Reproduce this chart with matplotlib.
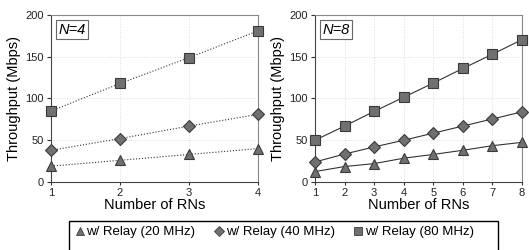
import matplotlib
matplotlib.use("Agg")
import matplotlib.pyplot as plt
from matplotlib.patches import Rectangle
from matplotlib.lines import Line2D

plt.rcParams['font.family'] = ['Liberation Sans', 'DejaVu Sans']

# Data
rns4 = [1, 2, 3, 4]
n4_20 = [19, 26, 33, 40]
n4_40 = [38, 52, 67, 81]
n4_80 = [85, 118, 149, 181]

rns8 = [1, 2, 3, 4, 5, 6, 7, 8]
n8_20 = [12.5, 18.5, 22, 28.5, 33, 38, 43.5, 47.5]
n8_40 = [24, 33.5, 42, 50, 58.5, 67, 75.5, 84]
n8_80 = [50, 67, 84.5, 101.5, 118.5, 136, 153, 170.5]

labels = ["w/ Relay (20 MHz)", "w/ Relay (40 MHz)", "w/ Relay (80 MHz)"]
markers = ['^', 'D', 's']
msizes = [7.5, 6.5, 7]
yticks = [0, 50, 100, 150, 200]

fill = '#707070'
edge = '#3a3a3a'

fig = plt.figure(figsize=(5.29, 2.5), dpi=100)
W, H = 529, 250

def px(l, t, r, b):
    return [l / W, 1 - b / H, (r - l) / W, (b - t) / H]

ax1 = fig.add_axes(px(51, 15, 258, 182))
ax2 = fig.add_axes(px(315, 15, 522, 182))

def draw(ax, x, series, ls, title, xticks):
    for y, m, ms in zip(series, markers, msizes):
        ax.plot(x, y, linestyle=ls, color='#333333', linewidth=0.8,
                marker=m, markersize=ms, markerfacecolor=fill,
                markeredgecolor=edge, markeredgewidth=0.8, clip_on=False, zorder=3)
    ax.set_xlim(x[0], x[-1])
    ax.set_ylim(0, 200)
    ax.set_yticks(yticks)
    ax.set_xticks(xticks)
    ax.grid(True, linestyle=':', color='#dddddd', linewidth=0.7)
    ax.tick_params(axis='both', labelsize=8, length=3, width=0.8, colors='#333333',
                   pad=2, labelcolor='#222222')
    ax.tick_params(axis='x', length=2)
    for s in ['top', 'right']:
        ax.spines[s].set_color('#888888')
    for s in ['left', 'bottom']:
        ax.spines[s].set_color('#444444')
    for s in ax.spines.values():
        s.set_linewidth(0.8)
    ax.set_ylabel("Throughput (Mbps)", fontsize=10.5, labelpad=3)
    ax.set_xlabel("Number of RNs", fontsize=10.5, labelpad=0)
    ax.text(0.035, 0.955, title, transform=ax.transAxes, fontsize=10.5,
            style='italic', va='top', ha='left',
            bbox=dict(boxstyle='square,pad=0.15', facecolor='white',
                      edgecolor='#666666', linewidth=0.8), zorder=5)

draw(ax1, rns4, [n4_20, n4_40, n4_80], ':', 'N=4', rns4)
draw(ax2, rns8, [n8_20, n8_40, n8_80], '-', 'N=8', rns8)

# Legend frame (extends beyond bottom of figure)
rect = Rectangle((69 / W, -0.1), (498 - 69) / W, 1 - 221 / H + 0.1,
                 transform=fig.transFigure, facecolor='white',
                 edgecolor='black', linewidth=1.0, clip_on=False)
fig.patches.append(rect)

handles = [Line2D([], [], linestyle='none', marker=m, markersize=s * 0.75,
                  markerfacecolor=fill, markeredgecolor=edge, markeredgewidth=0.6)
           for m, s in zip(markers, msizes)]
fig.legend(handles, labels, loc='center left',
           bbox_to_anchor=(75 / W, 1 - 232 / H), ncol=3, frameon=False,
           fontsize=9.5, handlelength=0.7, handletextpad=0.15,
           columnspacing=1.45, borderaxespad=0, borderpad=0)

fig.savefig("out.png", dpi=100)
